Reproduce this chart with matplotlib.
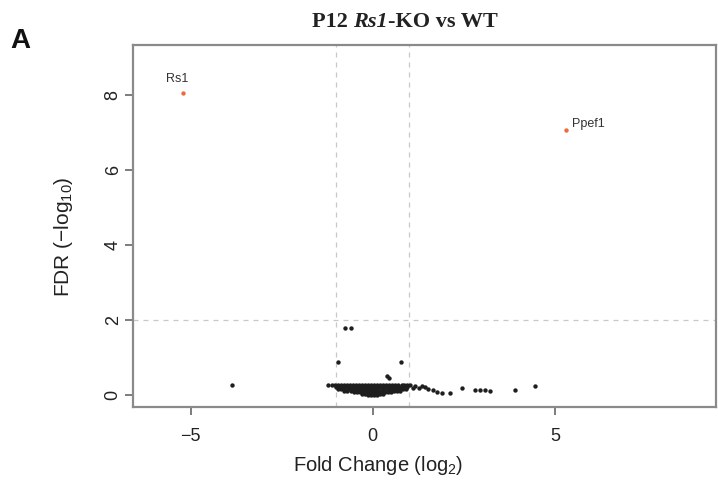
import matplotlib
matplotlib.use("Agg")
import matplotlib.pyplot as plt

plt.rcParams["font.family"] = ["Liberation Sans", "DejaVu Sans"]
plt.rcParams["mathtext.fontset"] = "custom"
plt.rcParams["mathtext.rm"] = "Liberation Sans"

# bulk of genes near FC=0 (log2 fold change, -log10 FDR)
bulk_fc = [
    -1.22, -1.13, -1.04, -0.96, -0.88, -0.80, -0.71, -0.63, -0.55, -0.46, -0.38, -0.30, -0.21, -0.13,
    -0.05, 0.04, 0.12, 0.20, 0.29, 0.37, 0.45, 0.54, 0.62, 0.70, 0.79, 0.87, 0.95, 1.03,
    -1.00, -0.92, -0.83, -0.75, -0.66, -0.58, -0.49, -0.41, -0.33, -0.24, -0.16, -0.07,
    0.01, 0.10, 0.18, 0.26, 0.35, 0.43, 0.51, 0.60, 0.68, 0.77, 0.85, 0.93,
    -0.95, -0.86, -0.78, -0.69, -0.61, -0.52, -0.44, -0.35, -0.27, -0.19, -0.10, -0.02,
    0.07, 0.15, 0.24, 0.32, 0.41, 0.49, 0.58, 0.66, 0.75, 0.84, 0.92,
    -0.78, -0.70, -0.61, -0.53, -0.44, -0.36, -0.27, -0.19, -0.10, -0.02,
    0.07, 0.15, 0.24, 0.32, 0.41, 0.50, 0.58, 0.67, 0.76,
    -0.52, -0.43, -0.35, -0.26, -0.18, -0.09, -0.01, 0.08, 0.16, 0.25, 0.33, 0.42, 0.50,
    -0.30, -0.22, -0.13, -0.05, 0.04, 0.12, 0.21, 0.29,
    -0.14, -0.05, 0.03, 0.11,
]
bulk_fdr = (
    [0.27] * 28
    + [0.22] * 24
    + [0.17] * 23
    + [0.12] * 19
    + [0.07] * 13
    + [0.03] * 8
    + [0.0] * 4
)

# scattered non-significant genes
other_fc = [-3.87, -0.77, -0.60, -0.96, 0.77, 0.38, 0.44,
            1.10, 1.16, 1.26, 1.34, 1.43, 1.51, 1.65, 1.76, 1.90, 2.12,
            2.45, 2.80, 2.94, 3.08, 3.21, 3.90, 4.45]
other_fdr = [0.27, 1.78, 1.78, 0.88, 0.88, 0.50, 0.45,
             0.20, 0.23, 0.18, 0.24, 0.22, 0.16, 0.13, 0.09, 0.06, 0.06,
             0.18, 0.13, 0.13, 0.13, 0.12, 0.13, 0.24]

# significant genes
sig_genes = ["Rs1", "Ppef1"]
sig_fc = [-5.22, 5.30]
sig_fdr = [8.05, 7.07]

# title pieces: (text, style)
title_parts = [("P12 ", "normal"), ("Rs1", "italic"), ("-KO vs WT", "normal")]

fig = plt.figure(figsize=(7.18, 4.8), dpi=100)
ax = fig.add_axes([0.185, 0.152, 0.812, 0.754])

ax.axvline(-1, color="#c8c8c8", linestyle=(0, (4, 4)), linewidth=0.9, zorder=0)
ax.axvline(1, color="#c8c8c8", linestyle=(0, (4, 4)), linewidth=0.9, zorder=0)
ax.axhline(2, color="#c8c8c8", linestyle=(0, (4, 4)), linewidth=0.9, zorder=0)

ax.scatter(bulk_fc, bulk_fdr, s=10, color="#1e1e1e", linewidths=0, zorder=2)
ax.scatter(other_fc, other_fdr, s=10, color="#1e1e1e", linewidths=0, zorder=2)
ax.scatter(sig_fc, sig_fdr, s=10, color="#f06a3c", linewidths=0, zorder=3)

ax.text(sig_fc[0] - 0.14, sig_fdr[0] + 0.38, sig_genes[0], ha="center", va="center",
        fontsize=9, color="#333333")
ax.text(sig_fc[1] + 0.17, sig_fdr[1] + 0.16, sig_genes[1], ha="left", va="center",
        fontsize=9, color="#333333")

ax.set_xlim(-6.59, 9.42)
ax.set_ylim(-0.32, 9.33)
ax.set_xticks([-5, 0, 5])
ax.set_yticks([0, 2, 4, 6, 8])
ax.tick_params(axis="both", direction="out", length=6, width=1.2, color="#666666",
               labelsize=13, labelcolor="#222222")
ax.tick_params(axis="x", pad=9)
ax.tick_params(axis="y", labelrotation=90, pad=2)
for lbl in ax.get_yticklabels():
    lbl.set_va("center")
for sp in ax.spines.values():
    sp.set_color("#8a8a8a")
    sp.set_linewidth(1.6)

ax.set_xlabel("Fold Change (log$_{2}$)", fontsize=14.5, color="#222222")
ax.xaxis.set_label_coords(0.42, -0.13)
ax.set_ylabel("FDR (−log$_{10}$)", fontsize=15, color="#222222")
ax.yaxis.set_label_coords(-0.10, 0.47)

# title with italic gene name, pieces laid out left to right
fig.canvas.draw()
renderer = fig.canvas.get_renderer()
pieces = []
for txt, style in title_parts:
    t = fig.text(0, 0.955, txt, ha="left", va="center", fontsize=16, fontweight="bold",
                 fontstyle=style, family="Liberation Serif", color="#222222")
    pieces.append(t)
widths = [p.get_window_extent(renderer).width / fig.bbox.width for p in pieces]
x0 = 0.564 - sum(widths) / 2
for p, w in zip(pieces, widths):
    p.set_x(x0)
    x0 += w

fig.text(0.015, 0.915, "A", ha="left", va="center", fontsize=20, fontweight="bold",
         family=["Liberation Sans Narrow", "Liberation Sans"], color="#111111")

fig.savefig("out.png", dpi=100)
